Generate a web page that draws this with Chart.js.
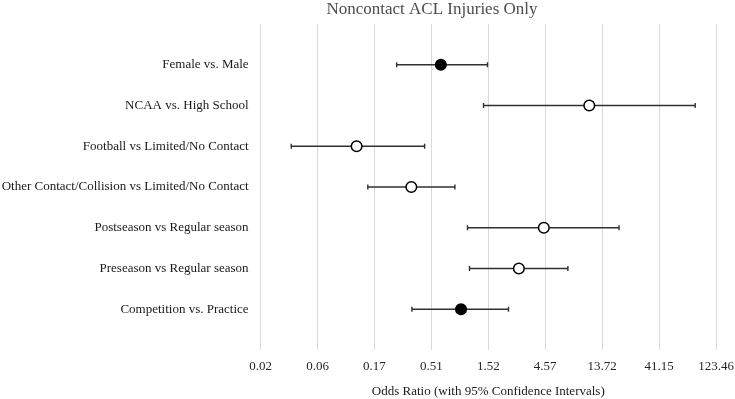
<!DOCTYPE html>
<html>
<head>
<meta charset="utf-8">
<script src="https://cdn.jsdelivr.net/npm/chart.js@4/dist/chart.umd.min.js"></script>
<style>
  html, body { margin: 0; padding: 0; background: #fff; }
  #wrap { width: 735px; height: 399px; }
</style>
</head>
<body>
<div id="wrap"><canvas id="forest"></canvas></div>
<script>
// Comparações (de cima para baixo)
const comparisons = [
    'Female vs. Male',
    'NCAA vs. High School',
    'Football vs Limited/No Contact',
    'Other Contact/Collision vs Limited/No Contact',
    'Postseason vs Regular season',
    'Preseason vs Regular season',
    'Competition vs. Practice'
];
// Odds ratio e IC 95%
const oddsRatio = [0.61, 10.7, 0.12, 0.345, 4.45, 2.75, 0.90];
const ciLow     = [0.26, 1.39, 0.034, 0.149, 1.02, 1.06, 0.349];
const ciHigh    = [1.50, 82.6, 0.446, 0.80, 19.0, 7.08, 2.25];
// marcador cheio (preto) / vazio (branco)
const filled    = [true, false, false, false, false, false, true];

// Eixo x (escala log, passo x3)
const tickValues = [0.018816, 0.056448, 0.169342, 0.508027, 1.524081, 4.572244, 13.716733, 41.150199, 123.4568];
const tickLabels = ['0.02', '0.06', '0.17', '0.51', '1.52', '4.57', '13.72', '41.15', '123.46'];

const FONT = '"Liberation Serif", "Times New Roman", serif';

// Título desenhado à parte (no original fica deslocado do centro)
const titlePlugin = {
    id: 'plotTitle',
    afterDraw(chart) {
        const c = chart.ctx;
        c.save();
        c.font = '17px ' + FONT;
        c.fillStyle = '#4d4d4d';
        c.textAlign = 'center';
        c.textBaseline = 'middle';
        c.fillText('Noncontact ACL Injuries Only', 432, 10);
        c.restore();
    }
};

const rows = comparisons.map((_, i) => i + 1);

// Uma linha por intervalo de confiança, com "caps" verticais
const ciSets = rows.map((y, i) => ({
    type: 'line',
    data: [{ x: ciLow[i], y: y }, { x: ciHigh[i], y: y }],
    borderColor: '#303030',
    borderWidth: 1.4,
    pointStyle: 'line',
    rotation: 90,
    pointRadius: 2.5,
    pointBorderColor: '#303030',
    pointBorderWidth: 1.4,
    pointHoverRadius: 0,
    fill: false
}));

const pointSet = {
    type: 'scatter',
    data: rows.map((y, i) => ({ x: oddsRatio[i], y: y })),
    pointRadius: 5.3,
    pointHoverRadius: 5.3,
    pointBorderWidth: 1.5,
    pointBorderColor: '#000',
    pointBackgroundColor: filled.map(f => f ? '#000' : '#fff')
};

new Chart(document.getElementById('forest').getContext('2d'), {
    type: 'scatter',
    data: { datasets: [pointSet].concat(ciSets) },
    options: {
        responsive: true,
        maintainAspectRatio: false,
        animation: false,
        layout: { padding: { top: 24, right: 19, bottom: 0, left: 0 } },
        plugins: {
            legend: { display: false },
            tooltip: { enabled: false },
            title: { display: false }
        },
        scales: {
            x: {
                type: 'logarithmic',
                min: tickValues[0],
                max: tickValues[tickValues.length - 1],
                afterBuildTicks: s => { s.ticks = tickValues.map(v => ({ value: v })); },
                ticks: {
                    autoSkip: false,
                    maxRotation: 0,
                    padding: 9,
                    color: '#262626',
                    font: { family: FONT, size: 13 },
                    callback: (v, i) => tickLabels[i]
                },
                grid: { color: '#d9d9d9', lineWidth: 1, drawTicks: false },
                border: { display: false },
                title: {
                    display: true,
                    text: 'Odds Ratio (with 95% Confidence Intervals)',
                    color: '#1a1a1a',
                    font: { family: FONT, size: 13 },
                    padding: { top: 8, bottom: 0 }
                },
                afterFit: s => { s.height = 49; s.paddingRight = 0; s.paddingLeft = 0; }
            },
            y: {
                type: 'linear',
                min: 0,
                max: 8,
                reverse: true,
                afterBuildTicks: s => { s.ticks = rows.map(v => ({ value: v })); },
                ticks: {
                    autoSkip: false,
                    padding: 12,
                    color: '#1a1a1a',
                    font: { family: FONT, size: 13 },
                    callback: v => comparisons[v - 1] || ''
                },
                grid: { display: false, drawTicks: false },
                border: { display: false },
                afterFit: s => { s.width = 260.6; s.paddingTop = 0; s.paddingBottom = 0; }
            }
        }
    },
    plugins: [titlePlugin]
});
</script>
</body>
</html>
